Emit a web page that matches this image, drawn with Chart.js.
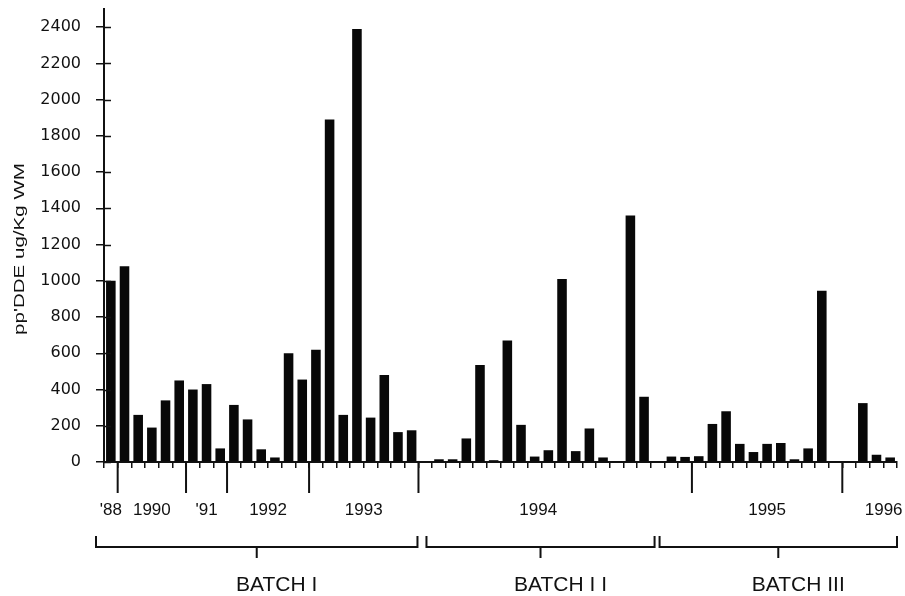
<!DOCTYPE html>
<html>
<head>
<meta charset="utf-8">
<title>pp'DDE by batch</title>
<script src="https://cdn.jsdelivr.net/npm/chart.js@4/dist/chart.umd.min.js"></script>
<style>
  html, body { margin: 0; padding: 0; background: #fff; }
  #chart { display: block; }
</style>
</head>
<body>
<canvas id="chart" width="905" height="596"></canvas>
<script>
// sampling years along the x axis and number of samples in each
const years = ["'88", "1990", "'91", "1992", "1993", "1994", "1995", "1996"];
const samplesPerYear = [1, 5, 3, 6, 8, 20, 11, 4];

const batches = ["BATCH I", "BATCH I I", "BATCH III"];
const samplesPerBatch = [23, 18, 17];

// pp'DDE, ug/Kg WM, one value per sample
const batch1 = [1000, 1080, 260, 190, 340, 450, 400, 430, 75, 315, 235, 70, 25, 600, 455, 620, 1890, 260, 2390, 245, 480, 165, 175];
const batch2 = [0, 15, 15, 130, 535, 10, 670, 205, 30, 65, 1010, 60, 185, 25, 5, 1360, 360, 0];
const batch3 = [30, 28, 32, 210, 280, 100, 55, 100, 105, 15, 75, 945, 5, 5, 325, 40, 25];

const yTicks = [0, 200, 400, 600, 800, 1000, 1200, 1400, 1600, 1800, 2000, 2200, 2400];

const values = batch1.concat(batch2, batch3);
const labels = years.flatMap((yr, i) => Array(samplesPerYear[i]).fill(yr));

const INK = '#111';

// running totals -> index of the first sample of each group
function starts(counts) {
  const out = [0];
  counts.forEach(c => out.push(out[out.length - 1] + c));
  return out;
}

// year separators, year labels, batch brackets and the y title
const axisDecor = {
  id: 'axisDecor',
  afterDraw(chart) {
    const { ctx, chartArea, scales: { x, y } } = chart;
    const edge = i => x.getPixelForValue(i - 0.5);
    const base = chartArea.bottom;

    ctx.save();
    ctx.strokeStyle = INK;
    ctx.fillStyle = INK;

    // y ticks cross the axis
    ctx.lineWidth = 1.5;
    y.ticks.forEach(t => {
      const py = Math.round(y.getPixelForValue(t.value)) + 0.5;
      ctx.beginPath();
      ctx.moveTo(chartArea.left, py);
      ctx.lineTo(chartArea.left + 7, py);
      ctx.stroke();
    });

    // long ticks between years
    const ys = starts(samplesPerYear);
    ctx.lineWidth = 2;
    ys.slice(1, -1).forEach(i => {
      const px = edge(i);
      ctx.beginPath();
      ctx.moveTo(px, base);
      ctx.lineTo(px, base + 31);
      ctx.stroke();
    });

    // year labels
    const yearNudge = { '1994': -17, '1996': 14 };
    ctx.font = '17px "Liberation Sans", Arial, sans-serif';
    ctx.textAlign = 'center';
    ctx.textBaseline = 'alphabetic';
    years.forEach((yr, i) => {
      const cx = (edge(ys[i]) + edge(ys[i + 1])) / 2 + (yearNudge[yr] || 0);
      ctx.fillText(yr, cx, base + 53);
    });

    // batch brackets
    const bs = starts(samplesPerBatch);
    const ends = [[-8, -1], [8, -10], [-5, 0]];
    const lineY = base + 85;
    ctx.lineWidth = 2;
    ctx.font = '21px "Liberation Sans", Arial, sans-serif';
    batches.forEach((name, i) => {
      const x0 = edge(bs[i]) + ends[i][0];
      const x1 = edge(bs[i + 1]) + ends[i][1];
      const mid = (x0 + x1) / 2;
      ctx.beginPath();
      ctx.moveTo(x0, lineY - 11);
      ctx.lineTo(x0, lineY);
      ctx.lineTo(x1, lineY);
      ctx.lineTo(x1, lineY - 11);
      ctx.moveTo(mid, lineY);
      ctx.lineTo(mid, lineY + 11);
      ctx.stroke();
      ctx.fillText(name, mid + 20, base + 129);
    });

    // y axis title, set wide like the tick numbers
    ctx.translate(20, 249);
    ctx.rotate(-Math.PI / 2);
    ctx.scale(1.37, 1);
    ctx.font = '15px "Liberation Sans", Arial, sans-serif';
    ctx.textBaseline = 'middle';
    ctx.fillText("pp'DDE ug/Kg WM", 0, 0);
    ctx.restore();
  }
};

new Chart(document.getElementById('chart'), {
  type: 'bar',
  data: {
    labels: labels,
    datasets: [{
      data: values,
      backgroundColor: '#080808',
      barPercentage: 0.7,
      categoryPercentage: 1
    }]
  },
  options: {
    responsive: false,
    animation: false,
    devicePixelRatio: 1,
    layout: { padding: { top: 9, right: 8, left: 0, bottom: 0 } },
    plugins: {
      legend: { display: false },
      tooltip: { enabled: false }
    },
    scales: {
      x: {
        offset: true,
        grid: { offset: true, drawOnChartArea: false, tickLength: 6, color: INK, lineWidth: 1.5 },
        border: { color: INK, width: 2 },
        ticks: { display: false, autoSkip: false },
        afterFit: s => { s.height = 134; }
      },
      y: {
        min: 0,
        max: 2500,
        afterBuildTicks: s => { s.ticks = yTicks.map(v => ({ value: v })); },
        grid: { drawOnChartArea: false, tickLength: 8, color: INK, lineWidth: 1.5 },
        border: { color: INK, width: 2 },
        ticks: {
          padding: 15,
          color: INK,
          font: { family: 'DejaVu Sans', size: 16 },
          callback: v => String(v)
        },
        afterFit: s => {
          s.width = 104;
          s.paddingTop = 0;
          s.paddingBottom = 0;
        }
      }
    }
  },
  plugins: [axisDecor]
});
</script>
</body>
</html>
